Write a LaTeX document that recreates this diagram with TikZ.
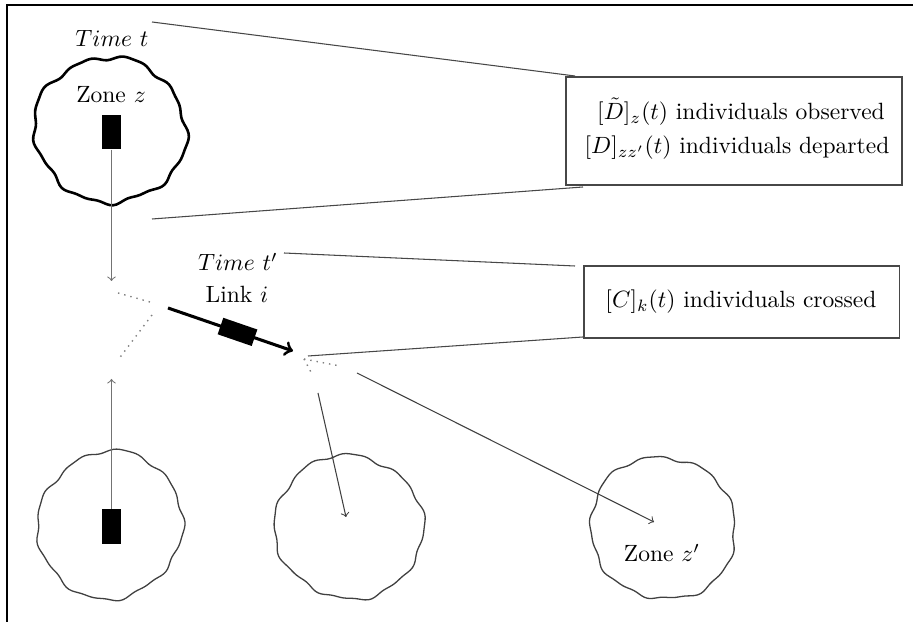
\documentclass[tikz,border=0pt]{standalone}
\usetikzlibrary{arrows}
% closed wobbly outline of a zone: [style] {cx}{cy}{radius}{phase}{wobble}
\newcommand\zoneblob[6][]{%
  \draw[#1] plot[smooth cycle, domain=0:357.5, samples=144, variable=\a]
    ({#2+#4*(1+#6*sin(9*\a+#5)+0.5*#6*sin(17*\a+2*#5)+1.1*#6*sin(2*\a+3*#5)+0.7*#6*sin(4*\a+#5))*cos(\a)},
     {#3+#4*(1+#6*sin(9*\a+#5)+0.5*#6*sin(17*\a+2*#5)+1.1*#6*sin(2*\a+3*#5)+0.7*#6*sin(4*\a+#5))*sin(\a)});}
\tikzset{
  frameline/.style={line width=0.9pt},
  person/.style={fill=black, draw=none, minimum width=8.1pt, minimum height=14.5pt, inner sep=0pt},
  moveline/.style={black!55, line width=0.45pt, ->},
  callout/.style={black!72, line width=0.45pt},
  infobox/.style={draw=black!72, line width=0.45pt, rectangle, inner sep=0pt},
  dotline/.style={black!50, line width=0.6pt, dash pattern=on 0.6pt off 2.1pt},
  linkarrow/.style={line width=1.3pt, ->},
  thinarrow/.style={black!75, line width=0.45pt, ->}
}
\begin{document}
\begin{tikzpicture}[x=0.425pt, y=-0.425pt]
\useasboundingbox (0,0) rectangle (913,622);
% outer frame
\draw[frameline] (7,622) -- (7,5) -- (913,5);

% zone z at time t
\coordinate (zA) at (110,130);
\zoneblob[line width=1.1pt]{110}{130}{74}{20}{0.025}
\node (timeT) at (112,38) {$Time~t$};
\node (zoneZ) at (111,95) {Zone $z$};
\node[person] (pA) at (111.5,132) {};
\coordinate (downEnd) at (111.5,281);
\draw[moveline] (pA.south) -- (downEnd);

% observation box
\node[infobox, minimum width=142.8pt, minimum height=45.9pt] (boxD) at (734,131) {};
\node[inner sep=0pt] (obsTxt) at (741,112) {$[\tilde{D}]_{z}(t)$ individuals observed};
\node[inner sep=0pt] (depTxt) at (737,148) {$[D]_{zz'}(t)$ individuals departed};
\coordinate (cTa) at (152,22);
\coordinate (cTb) at (152,219);
\coordinate (bDa) at (575,76);
\coordinate (bDb) at (583,187);
\draw[callout] (cTa) -- (bDa);
\draw[callout] (cTb) -- (bDb);

% link i at time t'
\node (timeTp) at (238,262) {$Time~t'$};
\node (linkI) at (237,294) {Link $i$};
\coordinate (lkS) at (168,308);
\coordinate (lkE) at (293,351);
\draw[linkarrow] (lkS) -- node[pos=0.556, sloped, fill=black, minimum width=15.3pt, minimum height=7.4pt, inner sep=0pt] (pL) {} (lkE);

% crossing box
\node[infobox, minimum width=133.9pt, minimum height=30.6pt] (boxC) at (741.5,302) {};
\node (crsTxt) at (741,302) {$[C]_{k}(t)$ individuals crossed};
\coordinate (cLa) at (284,253);
\coordinate (cLb) at (308,356);
\coordinate (bCa) at (575,266);
\coordinate (bCb) at (583,337);
\draw[callout] (cLa) -- (bCa);
\draw[callout] (cLb) -- (bCb);

% dotted alternatives around the link ends
\coordinate (dA1) at (118,293);
\coordinate (dA2) at (150,302);
\coordinate (dB1) at (152,315);
\coordinate (dB2) at (118,360);
\coordinate (dC0) at (304,359);
\coordinate (dC1) at (340,366);
\coordinate (dC2) at (312,374);
\draw[dotline] (dA1) -- (dA2);
\draw[dotline] (dB1) -- (dB2);
\draw[dotline] (dC0) -- (dC1);
\draw[dotline] (dC0) -- (dC2);

% zones at the lower level
\zoneblob[black!75, line width=0.55pt]{110}{525}{73}{70}{0.02}
\zoneblob[black!75, line width=0.55pt]{349}{527}{73}{140}{0.02}
\zoneblob[black!75, line width=0.55pt]{663}{528}{72}{250}{0.02}
\coordinate (zB) at (349,527);
\coordinate (zC) at (663,528);
\node[person] (pB) at (111.5,526.5) {};
\coordinate (upEnd) at (111.5,379);
\draw[moveline] (pB.north) -- (upEnd);
\node (zoneZp) at (662,553) {Zone $z'$};

% onward moves into the lower zones
\coordinate (mB) at (318,393);
\coordinate (mBe) at (346,517);
\coordinate (mC) at (357,373);
\coordinate (mCe) at (654,522);
\draw[thinarrow] (mB) -- (mBe);
\draw[thinarrow] (mC) -- (mCe);
\end{tikzpicture}
\end{document}
